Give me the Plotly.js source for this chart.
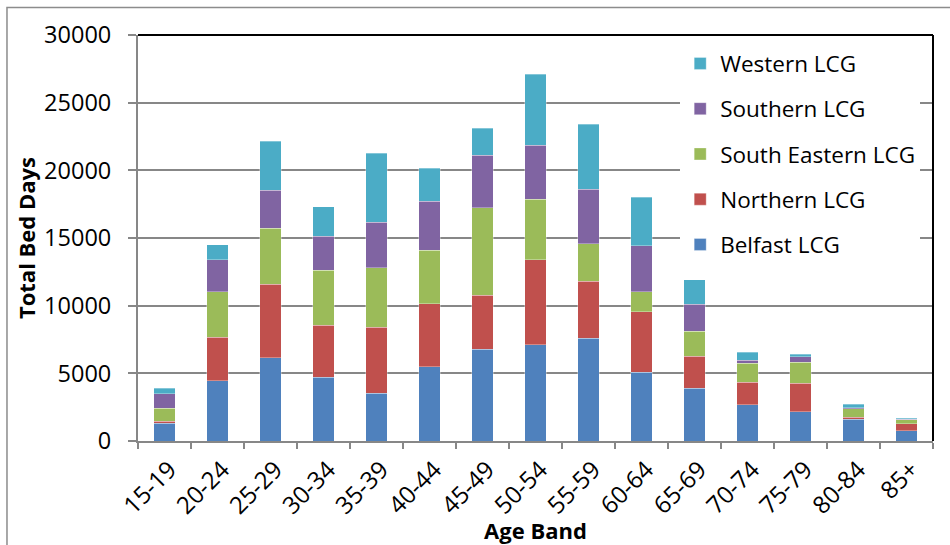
<!DOCTYPE html>
<html>
<head>
<meta charset="utf-8">
<script src="https://cdn.plot.ly/plotly-3.0.1.min.js"></script>
<style>
  html, body { margin: 0; padding: 0; background: #ffffff; }
  #chart { width: 950px; height: 545px; }
</style>
</head>
<body>
<div id="chart"></div>
<script>
// Total bed days by age band, stacked by Local Commissioning Group
const ageBands = ['15-19', '20-24', '25-29', '30-34', '35-39', '40-44', '45-49', '50-54',
                  '55-59', '60-64', '65-69', '70-74', '75-79', '80-84', '85+'];

const belfastLCG      = [1320, 4470, 6150, 4720, 3530, 5470, 6790, 7110, 7580, 5090, 3880, 2680, 2160, 1590, 750];
const northernLCG     = [150, 3180, 5440, 3840, 4880, 4670, 3990, 6300, 4230, 4460, 2370, 1670, 2110, 150, 540];
const southEasternLCG = [940, 3380, 4120, 4040, 4410, 3940, 6460, 4460, 2760, 1480, 1850, 1400, 1550, 660, 270];
const southernLCG     = [1090, 2360, 2830, 2540, 3350, 3640, 3870, 3990, 4040, 3400, 2020, 200, 420, 50, 30];
const westernLCG      = [390, 1110, 3600, 2170, 5080, 2440, 2000, 5250, 4780, 3570, 1800, 590, 170, 250, 80];

const yTicks = [0, 5000, 10000, 15000, 20000, 25000, 30000];

const FONT = '"Open Sans", "DejaVu Sans", sans-serif';
const GRID = '#878787';

// stacked bottom to top; legend lists them top to bottom in reverse
const series = [
  { name: 'Belfast LCG',       values: belfastLCG,      color: '#4F81BD', rank: 5 },
  { name: 'Northern LCG',      values: northernLCG,     color: '#C0504D', rank: 4 },
  { name: 'South Eastern LCG', values: southEasternLCG, color: '#9BBB59', rank: 3 },
  { name: 'Southern LCG',      values: southernLCG,     color: '#8064A2', rank: 2 },
  { name: 'Western LCG',       values: westernLCG,      color: '#4BACC6', rank: 1 }
];

const traces = series.map(s => ({
  type: 'bar',
  name: s.name,
  legendgroup: s.name,
  legendrank: s.rank,
  x: ageBands,
  y: s.values,
  marker: { color: s.color, line: { color: 'rgba(255,255,255,0.4)', width: 0.8 } },
  hoverinfo: 'x+y+name'
}));

const layout = {
  width: 950,
  height: 545,
  margin: { l: 138, r: 17, t: 35, b: 104, pad: 0 },
  paper_bgcolor: '#ffffff',
  plot_bgcolor: '#ffffff',
  barmode: 'stack',
  bargap: 0.6,
  font: { family: FONT, color: '#000000', size: 20 },
  showlegend: true,
  legend: {
    x: 0.682, y: 0.982, xanchor: 'left', yanchor: 'top',
    bgcolor: '#ffffff',
    traceorder: 'grouped',
    tracegroupgap: 13,
    font: { family: FONT, size: 22.5, color: '#000000' }
  },
  xaxis: {
    type: 'category',
    tickangle: -45,
    tickson: 'boundaries',
    ticks: 'outside',
    ticklen: 6,
    tickwidth: 2,
    tickcolor: GRID,
    showline: true,
    linecolor: GRID,
    linewidth: 2,
    showgrid: false,
    ticklabelstandoff: 3,
    ticklabelshift: 5,
    tickfont: { family: FONT, size: 24, color: '#000000' },
    title: { text: 'Age Band', font: { family: FONT, size: 22, color: '#000000', weight: 'bold' }, standoff: 0 },
    automargin: false
  },
  yaxis: {
    range: [0, 30000],
    tickvals: yTicks,
    ticktext: yTicks.map(String),
    ticks: 'outside',
    ticklen: 8,
    tickwidth: 2,
    tickcolor: GRID,
    showline: true,
    linecolor: GRID,
    linewidth: 2,
    showgrid: true,
    gridcolor: GRID,
    gridwidth: 2,
    zeroline: false,
    ticklabelstandoff: 12,
    tickfont: { family: FONT, size: 23.5, color: '#000000' },
    title: { text: 'Total Bed Days', font: { family: FONT, size: 22, color: '#000000', weight: 'bold' }, standoff: 2 },
    automargin: false
  },
  shapes: [
    // plot area frame on top and right
    { type: 'line', xref: 'paper', yref: 'paper', x0: 0, x1: 1, y0: 1, y1: 1,
      line: { color: '#000000', width: 2 } },
    { type: 'line', xref: 'paper', yref: 'paper', x0: 1, x1: 1, y0: 0, y1: 1,
      line: { color: '#000000', width: 2 } },
    // outer chart border
    { type: 'rect', xref: 'paper', yref: 'paper', x0: -0.1648, x1: 1.2, y0: -0.5, y1: 1.0677,
      line: { color: '#8c8c8c', width: 1.5 }, fillcolor: 'rgba(0,0,0,0)', layer: 'below' }
  ]
};

Plotly.newPlot('chart', traces, layout, { displayModeBar: false, staticPlot: true });
</script>
</body>
</html>
